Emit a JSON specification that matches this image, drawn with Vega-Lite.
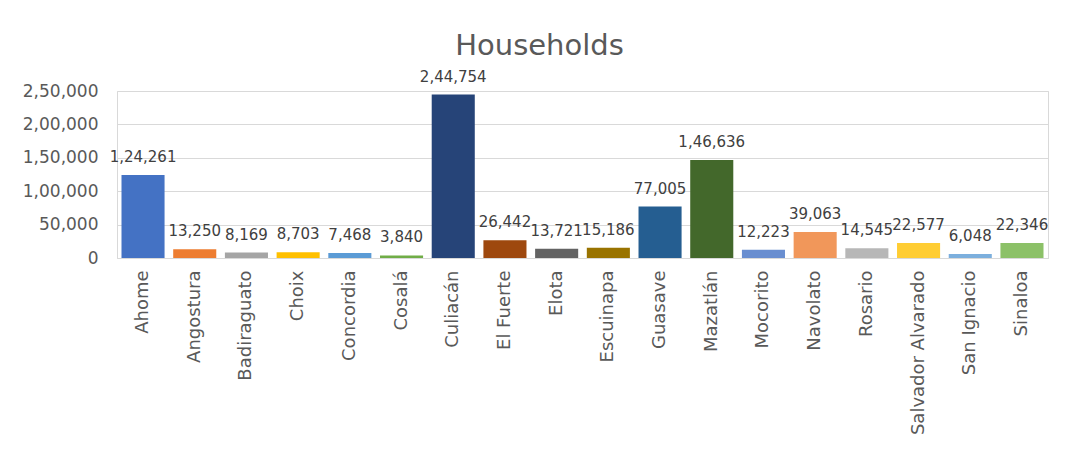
{
  "$schema": "https://vega.github.io/schema/vega-lite/v6.json",
  "autosize": "none",
  "width": 931,
  "height": 167,
  "padding": {"left": 117, "top": 91, "right": 33, "bottom": 194},
  "background": "white",
  "config": {
    "locale": {"number": {"decimal": ".", "thousands": ",", "grouping": [3, 2], "currency": ["", ""]}},
    "view": {"stroke": "#D9D9D9", "strokeWidth": 1},
    "font": "DejaVu Sans"
  },
  "title": {
    "text": "Households",
    "font": "DejaVu Sans",
    "fontSize": 29,
    "fontWeight": "normal",
    "color": "#595959",
    "anchor": "middle",
    "dx": -43,
    "offset": 9
  },
  "data": {
    "values": [
      {"municipio": "Ahome", "households": 124261},
      {"municipio": "Angostura", "households": 13250},
      {"municipio": "Badiraguato", "households": 8169},
      {"municipio": "Choix", "households": 8703},
      {"municipio": "Concordia", "households": 7468},
      {"municipio": "Cosalá", "households": 3840},
      {"municipio": "Culiacán", "households": 244754},
      {"municipio": "El Fuerte", "households": 26442},
      {"municipio": "Elota", "households": 13721},
      {"municipio": "Escuinapa", "households": 15186},
      {"municipio": "Guasave", "households": 77005},
      {"municipio": "Mazatlán", "households": 146636},
      {"municipio": "Mocorito", "households": 12223},
      {"municipio": "Navolato", "households": 39063},
      {"municipio": "Rosario", "households": 14545},
      {"municipio": "Salvador Alvarado", "households": 22577},
      {"municipio": "San Ignacio", "households": 6048},
      {"municipio": "Sinaloa", "households": 22346}
    ]
  },
  "encoding": {
    "x": {
      "field": "municipio",
      "type": "nominal",
      "sort": null,
      "scale": {"paddingInner": 0.167, "paddingOuter": 0.087},
      "axis": {
        "title": null,
        "labelAngle": -90,
        "labelFont": "DejaVu Sans",
        "labelFontSize": 18,
        "labelColor": "#595959",
        "labelPadding": 12,
        "ticks": false,
        "domain": true,
        "domainColor": "#D9D9D9",
        "labelLimit": 300
      }
    },
    "y": {
      "field": "households",
      "type": "quantitative",
      "scale": {"domain": [0, 250000], "nice": false},
      "axis": {
        "title": null,
        "values": [0, 50000, 100000, 150000, 200000, 250000],
        "format": ",d",
        "labelFont": "DejaVu Sans",
        "labelFontSize": 17,
        "labelColor": "#595959",
        "labelPadding": 19,
        "ticks": false,
        "domain": false,
        "gridColor": "#D9D9D9"
      }
    }
  },
  "layer": [
    {
      "mark": {"type": "bar"},
      "encoding": {
        "color": {
          "field": "municipio",
          "type": "nominal",
          "legend": null,
          "scale": {
            "domain": ["Ahome", "Angostura", "Badiraguato", "Choix", "Concordia", "Cosalá", "Culiacán", "El Fuerte", "Elota", "Escuinapa", "Guasave", "Mazatlán", "Mocorito", "Navolato", "Rosario", "Salvador Alvarado", "San Ignacio", "Sinaloa"],
            "range": ["#4472C4", "#ED7D31", "#A5A5A5", "#FFC000", "#5B9BD5", "#70AD47", "#264478", "#9E480E", "#636363", "#997300", "#255E91", "#43682B", "#698ED0", "#F1975A", "#B7B7B7", "#FFCD33", "#7CAFDD", "#8CC168"]
          }
        }
      }
    },
    {
      "mark": {"type": "text", "baseline": "alphabetic", "dy": -13, "fontSize": 15, "font": "DejaVu Sans", "color": "#404040"},
      "encoding": {
        "text": {"field": "households", "type": "quantitative", "format": ",d"}
      }
    }
  ]
}
